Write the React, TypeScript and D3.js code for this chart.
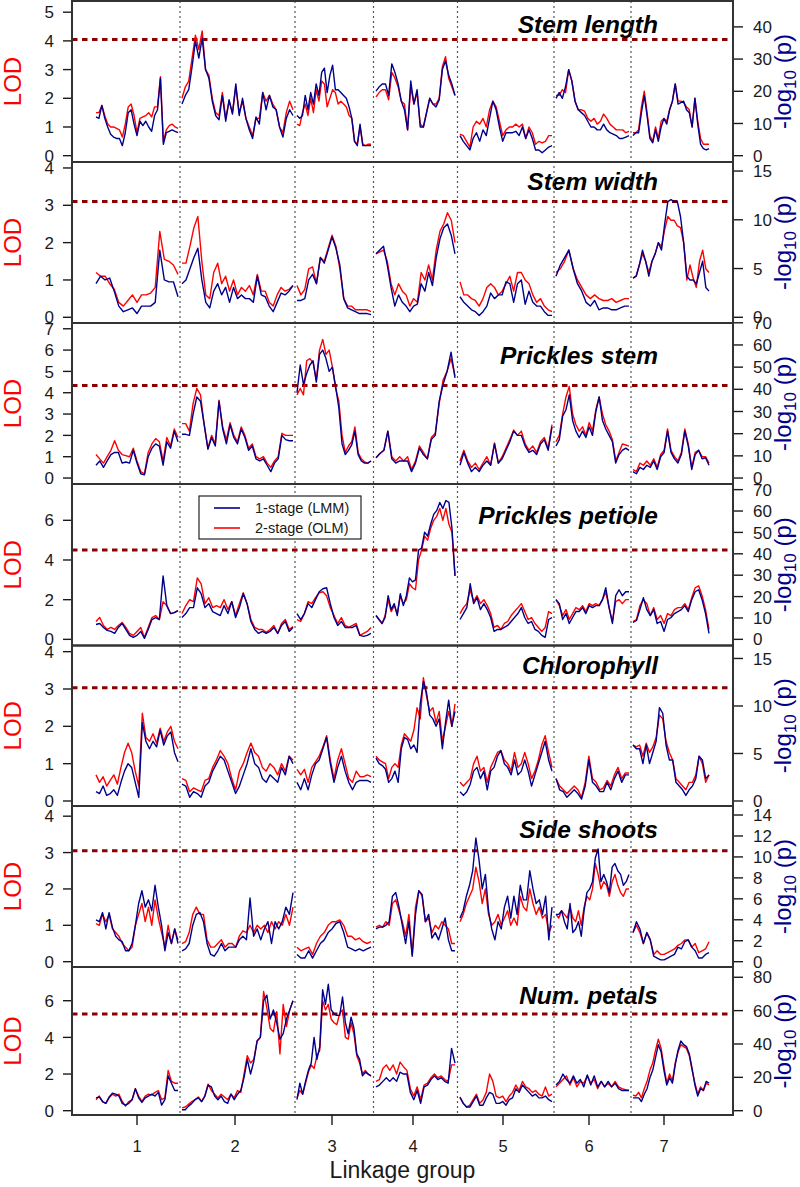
import React from 'react'
import * as d3 from 'd3'

// values, all on the LOD scale of each panel
const traits = ['Stem length', 'Stem width', 'Prickles stem', 'Prickles petiole', 'Chlorophyll', 'Side shoots', 'Num. petals']
const thresholds = [4.05, 3.1, 4.34, 4.5, 3.03, 3.05, 5.27]
const lodTicks = [[0, 1, 2, 3, 4, 5], [0, 1, 2, 3, 4], [0, 1, 2, 3, 4, 5, 6, 7], [0, 2, 4, 6], [0, 1, 2, 3, 4], [0, 1, 2, 3, 4], [0, 2, 4, 6]]
const logpTicks = [[0, 10, 20, 30, 40], [0, 5, 10, 15], [0, 10, 20, 30, 40, 50, 60, 70], [0, 10, 20, 30, 40, 50, 60, 70], [0, 5, 10, 15], [0, 2, 4, 6, 8, 10, 12, 14], [0, 20, 40, 60, 80]]
// LOD units per unit of -log10(p), how the right axis lines up with the left one
const lodPerLogp = [0.1122, 0.2612, 0.104, 0.1078, 0.2545, 0.288, 0.091]

const linkageGroups = ['1', '2', '3', '4', '5', '6', '7']
// cumulative map position (cM) of the first and last marker of each group
const groupStart = [24, 110, 225, 304, 388, 484, 561]
const groupEnd = [106, 221, 299, 383, 480, 557, 637]
const groupTick = [65, 163, 260, 341, 431, 517, 592]

const stemLengthOLM = [
  [1.5, 1.5, 1.75, 1.4, 1.1, 1.0, 1.0, 0.95, 0.9, 0.65, 1.1, 1.7, 1.8, 1.4, 0.8, 1.3, 1.35, 1.4, 1.5, 1.35, 1.7, 1.7, 2.75, 0.5, 0.9, 1.05, 1.1, 1.0, 0.95],
  [2.0, 2.4, 2.6, 3.4, 4.2, 3.7, 4.35, 3.0, 2.8, 2.0, 1.5, 1.4, 2.2, 1.3, 1.9, 1.5, 2.4, 1.5, 1.9, 1.3, 1.0, 0.7, 1.3, 1.3, 2.2, 1.9, 2.1, 1.8, 1.6, 1.0, 0.8, 1.5, 1.9, 1.6],
  [1.1, 1.05, 1.5, 1.8, 1.4, 2.0, 1.5, 2.3, 1.9, 2.6, 2.5, 1.7, 2.0, 2.3, 2.2, 1.8, 1.9, 1.8, 1.7, 1.4, 1.3, 0.5, 0.4, 1.0, 0.4, 0.35, 0.4, 0.4],
  [2.05, 2.2, 2.3, 2.3, 1.95, 2.9, 2.7, 2.4, 1.9, 1.8, 0.9, 2.4, 1.8, 2.2, 1.1, 1.0, 1.5, 2.0, 1.8, 1.8, 2.0, 3.1, 3.45, 2.7, 2.4, 2.1],
  [0.75, 0.7, 0.5, 0.3, 1.0, 1.2, 1.1, 1.3, 1.0, 1.6, 1.9, 1.7, 1.2, 0.7, 0.9, 1.0, 1.0, 1.1, 1.0, 1.1, 0.6, 1.0, 0.8, 0.4, 0.5, 0.45, 0.5, 0.7, 0.7],
  [2.1, 2.1, 2.3, 2.2, 3.0, 2.6, 1.9, 1.6, 1.6, 1.55, 1.3, 1.2, 1.3, 1.1, 1.2, 1.45, 1.3, 1.1, 1.0, 0.9, 0.9, 0.9, 0.8, 0.85],
  [0.8, 0.8, 0.9, 1.7, 2.25, 1.5, 0.7, 0.5, 1.0, 0.6, 1.2, 1.3, 1.2, 1.6, 1.9, 2.5, 1.9, 1.9, 1.85, 1.7, 1.6, 1.0, 2.0, 1.2, 0.6, 0.4, 0.4, 0.4],
]
const stemLengthLMM = [
  [1.35, 1.3, 1.75, 1.3, 1.0, 0.75, 0.65, 0.6, 0.6, 0.35, 0.8, 1.5, 1.6, 1.1, 0.7, 1.2, 1.05, 1.2, 1.0, 0.85, 1.4, 1.6, 2.7, 0.4, 0.8, 0.85, 0.9, 0.85, 0.8],
  [1.8, 2.1, 2.3, 3.1, 4.0, 3.4, 4.1, 3.0, 2.7, 1.9, 1.4, 1.25, 2.1, 1.2, 1.95, 1.45, 2.5, 1.4, 2.0, 1.3, 0.9, 0.6, 1.35, 1.1, 2.2, 1.6, 2.1, 1.7, 1.6, 1.0, 0.65, 1.3, 1.6, 1.4],
  [1.4, 1.3, 1.4, 2.1, 1.6, 2.2, 1.8, 2.5, 2.1, 2.9, 3.05, 2.2, 2.8, 3.15, 2.3, 2.3, 2.2, 2.1, 2.0, 1.7, 1.3, 0.5, 0.35, 1.1, 0.35, 0.35, 0.35, 0.35],
  [2.25, 2.4, 2.5, 2.5, 2.1, 3.2, 2.9, 2.5, 1.9, 1.6, 0.9, 2.6, 1.8, 2.3, 1.0, 1.0, 1.5, 2.0, 1.8, 1.7, 1.95, 3.0, 3.3, 2.8, 2.5, 2.1],
  [0.7, 0.5, 0.35, 0.2, 0.6, 0.8, 0.5, 0.9, 0.7, 1.3, 1.9, 1.6, 1.0, 0.5, 0.8, 0.8, 0.8, 0.85, 0.7, 1.0, 0.6, 0.9, 0.6, 0.2, 0.2, 0.1, 0.2, 0.3, 0.35],
  [2.0, 2.2, 2.0, 2.4, 3.0, 2.6, 1.9, 1.6, 1.5, 1.4, 1.2, 1.0, 1.0, 0.9, 0.9, 1.1, 0.9, 0.8, 0.75, 0.7, 0.6, 0.6, 0.65, 0.7],
  [0.7, 0.8, 0.8, 1.5, 2.1, 1.4, 0.6, 0.45, 0.9, 0.5, 1.0, 1.3, 1.1, 1.6, 1.9, 2.5, 1.8, 1.85, 1.9, 1.6, 1.5, 1.0, 2.0, 1.1, 0.4, 0.25, 0.2, 0.25],
]

const stemWidthOLM = [
  [1.2, 1.1, 1.1, 0.9, 0.75, 0.4, 0.3, 0.45, 0.6, 0.4, 0.6, 0.6, 0.65, 0.8, 2.3, 1.55, 1.5, 1.4, 1.15],
  [1.45, 1.45, 1.9, 2.4, 2.7, 1.5, 0.6, 0.5, 1.2, 1.45, 0.9, 1.1, 0.7, 1.0, 0.6, 0.8, 0.7, 0.85, 0.6, 1.15, 0.7, 0.7, 0.4, 0.3, 0.6, 0.8, 0.7, 0.75, 0.85],
  [0.85, 0.6, 0.75, 1.3, 1.35, 0.9, 1.6, 1.5, 1.85, 2.2, 1.9, 1.3, 0.5, 0.3, 0.3, 0.2, 0.2, 0.2, 0.2, 0.15],
  [1.7, 1.75, 1.8, 1.5, 0.9, 0.6, 0.9, 0.7, 0.6, 0.3, 0.5, 0.4, 1.2, 1.0, 1.4, 1.0, 1.8, 2.3, 2.5, 2.8, 2.6, 2.0],
  [0.95, 0.6, 0.6, 0.5, 0.45, 0.3, 0.5, 0.8, 0.9, 0.8, 0.6, 0.7, 0.9, 1.1, 0.7, 1.2, 1.2, 1.0, 0.9, 0.6, 0.4, 0.5, 0.3, 0.2, 0.15],
  [1.2, 1.3, 1.5, 1.8, 1.3, 1.0, 0.8, 0.6, 0.5, 0.6, 0.5, 0.45, 0.45, 0.5, 0.4, 0.45, 0.5, 0.5],
  [1.05, 1.1, 1.4, 1.7, 1.5, 1.2, 1.5, 1.7, 2.0, 1.9, 2.35, 2.7, 2.6, 2.6, 2.45, 2.4, 2.0, 1.0, 1.4, 1.05, 0.8, 1.5, 1.8, 1.3, 1.2],
]
const stemWidthLMM = [
  [0.9, 1.1, 1.0, 1.05, 0.7, 0.3, 0.15, 0.2, 0.25, 0.1, 0.3, 0.3, 0.3, 0.4, 1.8, 1.0, 0.95, 0.95, 0.55],
  [0.9, 1.0, 1.3, 1.6, 1.85, 1.0, 0.4, 0.25, 0.7, 0.9, 0.6, 0.8, 0.4, 0.8, 0.5, 0.6, 0.5, 0.5, 0.4, 1.1, 0.6, 0.55, 0.3, 0.15, 0.4, 0.65, 0.6, 0.7, 0.85],
  [0.45, 0.45, 0.5, 1.0, 1.15, 0.9, 1.6, 1.45, 1.8, 2.15, 1.85, 1.4, 0.5, 0.25, 0.2, 0.15, 0.1, 0.1, 0.1, 0.07],
  [1.7, 1.8, 1.9, 1.4, 0.8, 0.3, 0.6, 0.4, 0.3, 0.15, 0.3, 0.35, 0.9, 0.7, 1.2, 0.85, 1.6, 2.1, 2.4, 2.5, 2.2, 1.7],
  [0.55, 0.4, 0.3, 0.2, 0.15, 0.05, 0.15, 0.3, 0.65, 0.5, 0.6, 0.6, 0.95, 0.9, 0.4, 0.9, 1.0, 0.35, 0.7, 0.4, 0.3, 0.3, 0.15, 0.05, 0.05],
  [1.1, 1.4, 1.6, 1.8, 1.3, 0.9, 0.7, 0.4, 0.3, 0.45, 0.2, 0.25, 0.25, 0.2, 0.2, 0.25, 0.3, 0.3],
  [1.05, 1.1, 1.4, 1.8, 1.5, 1.1, 1.5, 1.7, 2.0, 1.8, 2.5, 3.1, 3.15, 3.1, 3.1, 2.7, 2.0, 1.1, 1.0, 1.0, 0.9, 1.2, 1.5, 0.8, 0.7],
]

const pricklesStemOLM = [
  [1.1, 0.9, 0.7, 1.0, 1.3, 1.75, 1.3, 1.1, 1.05, 1.0, 1.4, 0.8, 0.3, 0.2, 1.2, 1.6, 1.85, 1.7, 0.8, 1.9, 1.5, 2.3, 1.9],
  [2.55, 2.55, 2.2, 3.5, 4.2, 3.9, 2.5, 1.4, 2.0, 1.6, 3.65, 2.4, 1.8, 2.6, 2.0, 1.7, 2.4, 2.0, 1.4, 1.6, 1.0, 0.9, 1.0, 0.7, 0.5, 0.8, 1.0, 2.1, 2.0, 2.0, 2.0],
  [3.9, 4.2, 3.9, 5.5, 5.6, 5.4, 4.6, 6.0, 6.5, 5.8, 6.0, 5.2, 4.2, 3.6, 2.0, 1.2, 1.5, 1.7, 2.4, 1.2, 0.9, 0.75, 0.7, 0.8],
  [0.95, 1.15, 1.3, 2.2, 1.0, 0.8, 1.0, 0.8, 1.0, 0.4, 0.8, 1.5, 1.2, 0.9, 1.9, 2.1, 3.5, 4.6, 5.0, 5.6, 4.8],
  [0.8, 1.3, 0.8, 0.5, 0.7, 0.4, 0.7, 1.0, 0.6, 1.65, 0.7, 1.0, 1.4, 1.8, 2.25, 2.0, 2.2, 1.6, 1.3, 1.5, 1.2, 1.7, 1.9, 1.4, 2.5],
  [1.7, 2.0, 3.0, 3.8, 4.3, 3.0, 2.5, 2.2, 2.4, 2.0, 2.6, 2.2, 3.2, 3.8, 3.0, 2.5, 2.2, 1.8, 0.8, 1.2, 1.6, 1.55, 1.5],
  [0.4, 0.3, 0.7, 0.6, 0.8, 0.6, 0.9, 0.5, 1.1, 1.3, 2.3, 1.3, 1.0, 0.8, 1.2, 2.3, 1.6, 0.5, 1.2, 1.3, 1.0, 1.0, 0.7],
]
const pricklesStemLMM = [
  [0.6, 0.8, 0.5, 0.8, 1.1, 1.2, 1.2, 0.7, 0.75, 0.7, 1.3, 0.7, 0.2, 0.15, 1.0, 1.4, 1.6, 1.5, 0.6, 1.7, 1.4, 2.2, 1.7],
  [2.05, 2.05, 2.0, 3.0, 3.8, 3.6, 2.5, 1.35, 1.9, 1.5, 3.6, 2.3, 1.6, 2.5, 1.9, 1.6, 2.3, 1.9, 1.3, 1.5, 0.9, 0.8, 0.9, 0.6, 0.3, 0.7, 0.9, 2.0, 1.8, 1.75, 1.75],
  [4.0, 5.3, 4.4, 4.9, 5.3, 5.5, 4.5, 5.8, 6.0, 5.6, 5.0, 5.2, 4.3, 3.3, 1.6, 1.1, 1.3, 1.55, 2.2, 1.1, 0.8, 0.7, 0.7, 0.8],
  [0.95, 1.15, 1.3, 2.2, 0.9, 0.7, 0.8, 0.8, 0.8, 0.3, 0.7, 1.4, 1.1, 0.9, 1.8, 2.0, 3.6, 4.4, 5.0, 5.9, 4.7],
  [0.6, 1.2, 0.7, 0.3, 0.5, 0.3, 0.6, 0.8, 0.6, 1.6, 0.7, 0.9, 1.3, 1.7, 2.2, 2.0, 2.0, 1.5, 1.2, 1.3, 1.1, 1.6, 1.8, 1.3, 2.4],
  [1.5, 1.8, 2.9, 3.2, 3.9, 2.7, 2.2, 1.9, 2.2, 1.9, 2.4, 2.0, 3.1, 3.8, 2.7, 2.3, 2.0, 1.7, 0.7, 1.1, 1.3, 1.4, 1.3],
  [0.3, 0.2, 0.5, 0.4, 0.6, 0.5, 0.8, 0.4, 1.0, 1.2, 2.2, 1.2, 0.9, 0.7, 1.1, 2.2, 1.5, 0.4, 1.1, 1.3, 0.9, 0.95, 0.6],
]

const pricklesPetioleOLM = [
  [0.9, 1.1, 0.7, 0.5, 0.6, 0.5, 0.7, 0.85, 0.6, 0.3, 0.2, 0.4, 0.6, 0.1, 0.6, 1.1, 1.2, 1.0, 1.9, 1.7, 1.3, 1.35, 1.45],
  [1.3, 1.7, 2.0, 1.9, 3.1, 2.8, 1.8, 2.1, 1.6, 1.7, 1.6, 2.0, 1.5, 1.9, 1.2, 1.8, 2.35, 1.8, 1.0, 0.6, 0.5, 0.5, 0.35, 0.5, 0.7, 0.3, 0.8, 1.0, 0.5, 0.65],
  [1.0, 0.9, 1.3, 1.9, 1.8, 2.1, 2.35, 2.4, 2.2, 1.6, 1.2, 0.8, 1.1, 0.7, 0.6, 0.7, 0.8, 0.2, 0.3, 0.4, 0.6],
  [1.2, 1.0, 0.8, 1.2, 2.0, 1.4, 1.7, 1.3, 2.2, 1.8, 2.0, 2.8, 2.6, 2.5, 4.0, 4.5, 5.2, 5.0, 5.6, 6.0, 6.2, 6.6, 6.0, 6.6, 5.8, 5.4, 3.2],
  [1.3, 1.6, 1.8, 2.5, 1.9, 2.2, 1.8, 2.0, 1.7, 1.3, 0.6, 0.7, 0.5, 0.8, 0.9, 1.2, 1.4, 1.6, 1.8, 1.4, 1.0, 1.1, 0.8, 0.6, 0.4, 0.6, 1.4, 1.3],
  [2.0, 1.7, 1.2, 1.5, 1.0, 1.3, 1.6, 1.5, 1.7, 1.4, 1.8, 1.7, 1.8, 1.7, 2.0, 2.4, 1.6, 0.9, 1.9, 2.0, 1.8, 2.0, 2.0],
  [0.9, 1.0, 1.7, 2.0, 1.8, 1.2, 1.6, 1.0, 1.2, 0.8, 1.3, 1.2, 1.5, 1.6, 1.6, 1.8, 1.5, 2.1, 2.6, 2.7, 2.2, 1.5, 0.5],
]
const pricklesPetioleLMM = [
  [0.75, 0.8, 0.6, 0.45, 0.4, 0.3, 0.6, 0.8, 0.5, 0.2, 0.1, 0.2, 0.4, 0.05, 0.5, 1.0, 1.1, 1.0, 3.2, 1.7, 1.3, 1.35, 1.45],
  [1.1, 1.3, 1.6, 1.6, 2.6, 2.3, 1.6, 1.8, 1.4, 1.3, 1.2, 1.7, 1.3, 1.9, 1.1, 1.6, 2.3, 1.8, 0.9, 0.5, 0.3, 0.4, 0.3, 0.4, 0.6, 0.3, 0.7, 0.9, 0.4, 0.6],
  [1.3, 1.0, 1.3, 1.8, 1.6, 2.0, 2.4, 2.55, 2.6, 1.8, 1.1, 0.7, 0.9, 0.6, 0.6, 0.6, 0.7, 0.2, 0.15, 0.2, 0.3],
  [1.2, 1.0, 0.8, 1.1, 2.2, 1.5, 1.8, 1.2, 2.3, 1.7, 2.2, 3.1, 2.9, 3.0, 4.5, 4.6, 5.4, 5.2, 5.8, 6.3, 6.5, 6.9, 6.6, 7.0, 6.9, 5.6, 3.2],
  [1.0, 1.3, 1.6, 2.8, 1.8, 2.1, 1.5, 1.8, 1.5, 1.1, 0.4, 0.5, 0.5, 0.6, 0.7, 0.9, 1.1, 1.3, 1.6, 1.1, 0.8, 0.9, 0.5, 0.4, 0.2, 0.1, 1.0, 1.1],
  [2.0, 1.8, 1.0, 1.3, 0.8, 1.1, 1.4, 1.4, 1.6, 1.3, 1.7, 1.6, 1.7, 1.7, 2.0, 2.6, 1.6, 0.8, 2.2, 2.5, 2.2, 2.4, 2.4],
  [0.85, 0.95, 1.5, 2.1, 1.5, 1.2, 1.5, 0.8, 0.9, 0.4, 1.0, 1.1, 1.3, 1.4, 1.5, 1.7, 1.4, 2.0, 2.4, 2.5, 2.0, 1.3, 0.3],
]

const chlorophyllOLM = [
  [0.7, 0.5, 0.65, 0.4, 0.55, 0.7, 0.45, 0.9, 1.3, 1.55, 1.3, 0.8, 0.4, 2.35, 1.7, 1.6, 1.8, 1.55, 1.95, 1.6, 1.85, 2.0, 1.6, 1.4],
  [0.6, 0.55, 0.25, 0.35, 0.3, 0.25, 0.55, 0.6, 0.9, 1.1, 1.35, 1.2, 1.0, 0.6, 0.3, 0.8, 1.0, 1.3, 1.55, 1.3, 1.2, 0.9, 0.8, 1.0, 0.9, 0.7, 1.0, 0.8, 1.2, 1.1],
  [0.85, 0.7, 0.85, 0.5, 0.9, 1.05, 1.2, 1.45, 1.75, 1.1, 0.6, 1.1, 1.4, 1.0, 0.6, 0.5, 0.8, 0.65, 0.65, 0.7, 0.65],
  [1.2, 1.1, 1.05, 1.0, 0.6, 0.9, 1.0, 0.9, 1.5, 1.8, 1.7, 1.6, 1.9, 2.5, 2.2, 3.3, 2.8, 2.4, 2.5, 2.1, 2.4, 1.6, 2.0, 2.4, 2.0, 2.6],
  [0.5, 0.4, 0.5, 0.6, 1.0, 1.2, 0.8, 0.9, 0.5, 0.9, 1.1, 1.3, 1.35, 1.1, 1.0, 0.8, 1.3, 0.9, 1.0, 1.3, 1.0, 0.6, 0.8, 1.1, 1.5, 1.75, 1.3, 0.9],
  [0.6, 0.4, 0.3, 0.2, 0.3, 0.4, 0.3, 0.1, 0.5, 1.2, 0.6, 0.5, 0.3, 0.35, 0.55, 0.4, 0.7, 0.9, 0.6, 0.75, 0.75],
  [1.5, 1.45, 1.5, 1.2, 1.55, 1.3, 1.45, 1.7, 2.3, 2.2, 1.6, 1.3, 1.1, 0.6, 0.5, 0.4, 0.3, 0.5, 0.5, 0.7, 1.2, 1.0, 0.5, 0.7],
]
const chlorophyllLMM = [
  [0.25, 0.2, 0.4, 0.15, 0.2, 0.3, 0.15, 0.5, 0.8, 1.0, 0.9, 0.5, 0.1, 2.1, 1.6, 1.4, 1.6, 1.45, 1.9, 1.5, 1.75, 1.85, 1.3, 1.05],
  [0.45, 0.4, 0.1, 0.25, 0.2, 0.1, 0.4, 0.5, 0.8, 1.0, 1.2, 1.1, 0.8, 0.5, 0.2, 0.4, 0.7, 1.0, 1.4, 1.0, 0.9, 0.6, 0.5, 0.7, 0.6, 0.5, 0.9, 0.7, 1.2, 1.0],
  [0.5, 0.3, 0.6, 0.3, 0.7, 1.0, 1.1, 1.4, 1.7, 1.0, 0.5, 0.9, 1.2, 0.8, 0.5, 0.3, 0.5, 0.55, 0.55, 0.55, 0.5],
  [1.15, 1.0, 0.95, 0.85, 0.5, 0.6, 0.8, 0.5, 1.4, 1.7, 1.65, 1.4, 1.5, 1.3, 2.6, 3.2, 2.9, 2.3, 2.2, 2.0, 2.2, 1.4, 2.1, 2.7, 2.0, 2.4],
  [0.25, 0.15, 0.25, 0.45, 0.8, 0.9, 0.6, 0.8, 0.3, 0.8, 0.9, 1.2, 1.35, 1.0, 0.9, 0.7, 1.1, 0.7, 0.8, 1.1, 0.8, 0.4, 0.7, 1.0, 1.3, 1.6, 1.1, 0.8],
  [0.6, 0.3, 0.25, 0.1, 0.2, 0.3, 0.2, 0.05, 0.4, 1.1, 0.5, 0.4, 0.25, 0.25, 0.5, 0.3, 0.6, 0.8, 0.5, 0.7, 0.7],
  [1.5, 1.4, 1.4, 1.0, 1.5, 1.0, 1.3, 1.6, 2.5, 2.35, 1.5, 1.1, 1.1, 0.5, 0.4, 0.3, 0.15, 0.3, 0.4, 0.6, 1.2, 1.1, 0.6, 0.7],
]

const sideShootsOLM = [
  [1.05, 1.0, 1.3, 1.1, 1.3, 0.9, 0.8, 0.7, 0.5, 0.4, 0.3, 0.4, 1.0, 1.3, 1.6, 1.1, 1.5, 1.0, 1.7, 1.2, 0.8, 0.4, 1.0, 0.5, 0.9, 0.6],
  [0.5, 0.55, 0.8, 1.3, 1.5, 1.3, 1.3, 0.6, 0.4, 0.4, 0.5, 0.6, 0.4, 0.5, 0.5, 0.4, 0.7, 0.85, 0.8, 1.0, 0.8, 1.0, 0.9, 1.0, 0.8, 1.1, 0.9, 1.1, 1.0, 1.3, 1.0, 1.5],
  [0.4, 0.3, 0.35, 0.4, 0.2, 0.5, 0.7, 0.8, 1.0, 1.1, 1.1, 1.15, 1.0, 0.7, 0.7, 0.6, 0.65, 0.55, 0.5, 0.55],
  [0.95, 1.0, 0.95, 1.1, 1.0, 1.6, 1.7, 1.4, 1.1, 0.7, 1.3, 0.2, 1.5, 1.95, 1.8, 1.1, 1.2, 0.8, 1.0, 0.9, 1.1, 1.0, 0.9, 0.5, 0.5],
  [1.1, 1.3, 1.6, 1.8, 2.0, 2.6, 2.2, 1.6, 2.0, 1.3, 1.0, 1.1, 1.3, 1.0, 1.2, 1.4, 1.0, 1.2, 1.0, 1.8, 1.5, 1.4, 2.0, 1.6, 1.3, 1.5, 1.2, 1.3, 0.8, 1.0],
  [1.3, 1.2, 1.4, 1.3, 1.2, 1.5, 1.2, 1.1, 1.4, 1.0, 1.5, 1.8, 1.7, 2.0, 2.7, 2.4, 2.0, 2.2, 2.1, 1.8, 2.2, 2.4, 2.1, 1.9, 1.8, 2.0, 2.0],
  [0.8, 1.0, 0.8, 0.5, 0.8, 0.6, 0.2, 0.3, 0.2, 0.2, 0.25, 0.3, 0.35, 0.45, 0.5, 0.6, 0.6, 0.4, 0.5, 0.25, 0.3, 0.35, 0.55],
]
const sideShootsLMM = [
  [1.15, 1.1, 1.35, 0.9, 1.35, 0.95, 0.7, 0.6, 0.55, 0.3, 0.3, 0.5, 1.0, 1.6, 1.95, 1.5, 1.7, 1.4, 2.1, 1.5, 1.0, 0.3, 0.8, 0.5, 0.9, 0.5],
  [0.3, 0.35, 0.5, 1.0, 1.3, 1.35, 1.1, 0.5, 0.2, 0.15, 0.3, 0.5, 0.3, 0.4, 0.4, 0.4, 0.6, 0.7, 0.6, 1.75, 0.7, 0.9, 0.6, 0.9, 1.1, 0.5, 1.1, 0.9, 1.1, 1.5, 1.3, 1.9],
  [0.2, 0.1, 0.1, 0.3, 0.1, 0.3, 0.5, 0.6, 0.8, 0.9, 1.05, 1.1, 0.8, 0.4, 0.35, 0.3, 0.35, 0.3, 0.35, 0.4],
  [0.9, 0.95, 0.95, 1.0, 1.1, 1.8, 1.9, 1.5, 1.0, 0.5, 1.1, 0.15, 1.3, 1.95, 1.85, 1.1, 1.3, 0.65, 0.8, 0.6, 0.9, 1.2, 0.6, 0.3, 0.3],
  [1.2, 1.4, 1.8, 2.1, 2.5, 3.4, 2.8, 2.0, 2.4, 1.4, 0.9, 0.6, 1.1, 0.9, 1.5, 1.8, 1.2, 1.8, 1.3, 2.1, 1.7, 1.7, 2.5, 2.0, 1.6, 1.7, 1.3, 1.8, 0.6, 1.5],
  [1.3, 1.3, 1.4, 1.1, 0.9, 1.6, 0.8, 0.9, 1.1, 0.7, 1.4, 1.9, 2.0, 2.2, 2.85, 3.1, 2.2, 2.4, 2.2, 1.9, 2.6, 2.7, 2.5, 2.4, 2.1, 2.2, 2.4],
  [0.8, 1.1, 0.9, 0.5, 0.8, 0.6, 0.15, 0.1, 0.05, 0.05, 0.1, 0.15, 0.2, 0.4, 0.35, 0.55, 0.6, 0.4, 0.3, 0.1, 0.1, 0.2, 0.25],
]

const numPetalsOLM = [
  [0.6, 0.8, 0.5, 0.4, 0.7, 0.9, 0.8, 0.9, 0.5, 0.25, 0.5, 0.6, 1.2, 0.8, 0.5, 0.8, 0.9, 0.85, 1.0, 1.1, 0.6, 0.7, 2.2, 1.6, 1.5, 1.5],
  [0.15, 0.2, 0.35, 0.5, 0.6, 0.75, 0.5, 0.8, 1.45, 1.1, 0.9, 0.7, 0.9, 0.75, 0.6, 0.9, 0.7, 1.1, 1.0, 2.0, 3.0, 2.6, 2.8, 3.8, 4.0, 6.5, 5.6, 4.5, 4.3, 5.4, 3.1, 5.8, 4.6, 5.5, 6.0],
  [0.7, 1.1, 0.9, 1.5, 2.1, 2.5, 2.3, 3.0, 3.3, 6.0, 5.5, 5.8, 5.0, 4.8, 4.7, 5.3, 5.5, 4.0, 3.9, 4.8, 4.2, 3.0, 2.6, 2.0, 2.2, 2.0, 1.9],
  [1.6, 1.7, 2.3, 2.5, 2.2, 2.5, 2.0, 2.65, 2.4, 2.2, 1.2, 0.8, 1.3, 0.6, 1.4, 1.5, 1.8, 2.0, 1.8, 1.9, 1.7, 1.6, 2.5, 2.5],
  [0.7, 0.4, 0.2, 0.3, 0.6, 0.9, 0.4, 0.6, 1.0, 2.0, 1.6, 0.8, 0.7, 0.8, 0.5, 0.8, 1.0, 1.4, 1.1, 1.6, 1.3, 1.2, 1.0, 1.1, 0.9, 0.8, 1.3, 0.8, 0.9],
  [1.3, 1.5, 1.7, 1.9, 1.4, 1.8, 1.3, 1.6, 1.5, 1.9, 1.5, 1.7, 1.2, 1.6, 1.3, 1.5, 1.3, 1.6, 1.3, 1.2, 1.15, 1.1],
  [0.85, 0.8, 1.0, 0.7, 1.2, 1.6, 2.2, 2.6, 3.3, 3.9, 3.4, 2.4, 1.5, 2.0, 1.6, 2.6, 3.2, 3.6, 3.5, 3.4, 3.0, 2.2, 1.5, 0.9, 1.3, 1.1, 1.5, 1.4],
]
const numPetalsLMM = [
  [0.7, 0.75, 0.5, 0.4, 0.75, 0.95, 0.9, 0.8, 0.4, 0.3, 0.4, 0.6, 1.2, 0.7, 0.45, 0.7, 0.8, 0.9, 0.8, 1.0, 0.3, 0.6, 1.9, 1.5, 1.1, 1.1],
  [0.05, 0.05, 0.25, 0.4, 0.6, 0.7, 0.5, 0.8, 1.4, 1.3, 0.8, 0.6, 0.8, 0.5, 0.4, 0.9, 0.6, 0.9, 1.1, 1.8, 2.8, 2.0, 2.7, 3.8, 4.0, 6.0, 6.3, 5.0, 5.5, 4.8, 3.9, 4.2, 5.0, 5.5, 6.0],
  [0.6, 1.5, 0.9, 1.6, 2.2, 2.6, 4.0, 2.8, 3.5, 6.6, 5.8, 6.9, 5.5, 5.3, 5.2, 5.2, 6.2, 4.8, 4.2, 5.1, 4.5, 3.1, 2.8, 1.9, 2.1, 2.0, 1.9],
  [1.3, 1.4, 1.6, 1.8, 1.6, 1.8, 1.6, 2.1, 2.0, 2.0, 1.0, 0.6, 1.1, 0.4, 1.3, 1.4, 1.7, 1.9, 1.7, 1.8, 1.6, 1.5, 3.4, 2.6],
  [0.75, 0.4, 0.2, 0.2, 0.5, 0.8, 0.3, 0.3, 0.7, 1.0, 0.9, 0.4, 0.4, 0.5, 0.3, 0.6, 0.7, 1.2, 1.0, 1.4, 1.2, 1.0, 0.8, 0.9, 0.7, 0.7, 0.8, 0.6, 0.5],
  [1.4, 1.6, 2.0, 1.7, 1.5, 1.9, 1.5, 1.7, 1.3, 1.95, 1.4, 1.9, 1.3, 1.6, 1.3, 1.6, 1.3, 1.5, 1.2, 1.1, 1.1, 1.1],
  [0.7, 0.7, 0.7, 0.5, 0.9, 1.2, 1.8, 2.2, 2.9, 3.6, 3.2, 2.2, 1.4, 1.8, 1.5, 2.5, 3.3, 3.8, 3.6, 3.5, 3.1, 2.3, 1.4, 0.8, 1.2, 1.1, 1.6, 1.5],
]

const olmSeries = [stemLengthOLM, stemWidthOLM, pricklesStemOLM, pricklesPetioleOLM, chlorophyllOLM, sideShootsOLM, numPetalsOLM]
const lmmSeries = [stemLengthLMM, stemWidthLMM, pricklesStemLMM, pricklesPetioleLMM, chlorophyllLMM, sideShootsLMM, numPetalsLMM]

// layout
const width = 800
const height = 1187
const plotLeft = 72
const plotRight = 733
const panelTop = [1, 162, 323, 484, 645.5, 806, 967]
const panelBottom = [162, 323, 484, 645.5, 806, 967, 1115]
const lodDomain: [number, number][] = [[-0.22, 5.39], [-0.153, 4.16], [-0.28, 7.27], [-0.31, 7.83], [-0.134, 4.165], [-0.146, 4.28], [-0.235, 7.84]]
const titleBaseline = [31.5, 27.7, 40.7, 40, 28.5, 31.5, 37]

const OLM_COLOR = '#ff0000'
const LMM_COLOR = '#00008b'
const INK = '#1a1a1a'
const FONT = '"Liberation Sans", Arial, Helvetica, sans-serif'

const App: React.FunctionComponent = () => {
  const x = d3.scaleLinear().domain([0, plotRight - plotLeft]).range([plotLeft, plotRight])

  const separators = groupStart.slice(1).map((s, i) => (s + groupEnd[i]) / 2)

  const groupPath = (values: number[], g: number, y: d3.ScaleLinear<number, number>) => {
    const pos = d3.scaleLinear().domain([0, values.length - 1]).range([groupStart[g], groupEnd[g]])
    const line = d3
      .line<number>()
      .x((_, i) => x(pos(i)))
      .y(v => y(v))
    return line(values) || ''
  }

  return (
    <svg
      width={width}
      height={height}
      style={{ position: 'absolute', left: 0, top: 0, background: '#fff' }}
      fontFamily={FONT}
    >
      <rect x={0} y={0} width={width} height={height} fill="#fff" />

      {traits.map((trait, p) => {
        const y = d3.scaleLinear().domain(lodDomain[p]).range([panelBottom[p], panelTop[p]])
        const mid = (panelTop[p] + panelBottom[p]) / 2
        return (
          <g key={trait}>
            <line
              x1={plotLeft}
              x2={plotRight}
              y1={y(thresholds[p])}
              y2={y(thresholds[p])}
              stroke="#8b0000"
              strokeWidth={3}
              strokeDasharray="5.5,4.5"
            />
            {olmSeries[p].map((vals, g) => (
              <path key={'o' + g} d={groupPath(vals, g, y)} fill="none" stroke={OLM_COLOR} strokeWidth={1.4} strokeLinejoin="round" />
            ))}
            {lmmSeries[p].map((vals, g) => (
              <path key={'l' + g} d={groupPath(vals, g, y)} fill="none" stroke={LMM_COLOR} strokeWidth={1.4} strokeLinejoin="round" />
            ))}

            {lodTicks[p].map(t => (
              <g key={'lt' + t}>
                <line x1={plotLeft - 9} x2={plotLeft} y1={y(t)} y2={y(t)} stroke={INK} strokeWidth={1.4} />
                <text x={plotLeft - 18} y={y(t)} dy="0.36em" textAnchor="end" fontSize={17} fill={INK}>
                  {t}
                </text>
              </g>
            ))}
            {logpTicks[p].map(t => (
              <g key={'rt' + t}>
                <line x1={plotRight} x2={plotRight + 10} y1={y(t * lodPerLogp[p])} y2={y(t * lodPerLogp[p])} stroke={INK} strokeWidth={1.4} />
                <text x={plotRight + 20} y={y(t * lodPerLogp[p])} dy="0.36em" fontSize={17} fill={INK}>
                  {t}
                </text>
              </g>
            ))}

            <text transform={`translate(21,${mid}) rotate(-90)`} textAnchor="middle" fontSize={24} fill={OLM_COLOR}>
              LOD
            </text>
            <text transform={`translate(791,${mid}) rotate(-90)`} textAnchor="middle" fontSize={24} fill={LMM_COLOR}>
              -log
              <tspan fontSize={17} dy={5}>10</tspan>
              <tspan dy={-5}> (p)</tspan>
            </text>

            <text
              x={658}
              y={panelTop[p] + titleBaseline[p]}
              textAnchor="end"
              fontSize={24.5}
              fontWeight="bold"
              fontStyle="italic"
              fill="#000"
            >
              {trait}
            </text>
          </g>
        )
      })}

      {separators.map((s, i) => (
        <line
          key={'sep' + i}
          x1={x(s)}
          x2={x(s)}
          y1={panelTop[0]}
          y2={panelBottom[panelBottom.length - 1]}
          stroke="#555"
          strokeWidth={1.2}
          strokeDasharray="2,3"
        />
      ))}

      {traits.map((trait, p) => (
        <rect
          key={'box' + trait}
          x={plotLeft}
          y={panelTop[p]}
          width={plotRight - plotLeft}
          height={panelBottom[p] - panelTop[p]}
          fill="none"
          stroke="#333"
          strokeWidth={2}
        />
      ))}

      <g>
        <rect x={199} y={496} width={162} height={43} fill="#fff" stroke="#222" strokeWidth={1.2} />
        <line x1={214} x2={240} y1={508} y2={508} stroke={LMM_COLOR} strokeWidth={1.6} />
        <line x1={214} x2={240} y1={528} y2={528} stroke={OLM_COLOR} strokeWidth={1.6} />
        <text x={255} y={508} dy="0.36em" fontSize={14.5} fill={INK}>1-stage (LMM)</text>
        <text x={255} y={528} dy="0.36em" fontSize={14.5} fill={INK}>2-stage (OLM)</text>
      </g>

      {linkageGroups.map((lg, i) => (
        <g key={'xt' + lg}>
          <line
            x1={x(groupTick[i])}
            x2={x(groupTick[i])}
            y1={panelBottom[6]}
            y2={panelBottom[6] + 10}
            stroke={INK}
            strokeWidth={1.4}
          />
          <text x={x(groupTick[i])} y={1152} textAnchor="middle" fontSize={16.5} fill={INK}>
            {lg}
          </text>
        </g>
      ))}
      <text x={(plotLeft + plotRight) / 2} y={1178} textAnchor="middle" fontSize={23} fill={INK}>
        Linkage group
      </text>
    </svg>
  )
}

export default App
